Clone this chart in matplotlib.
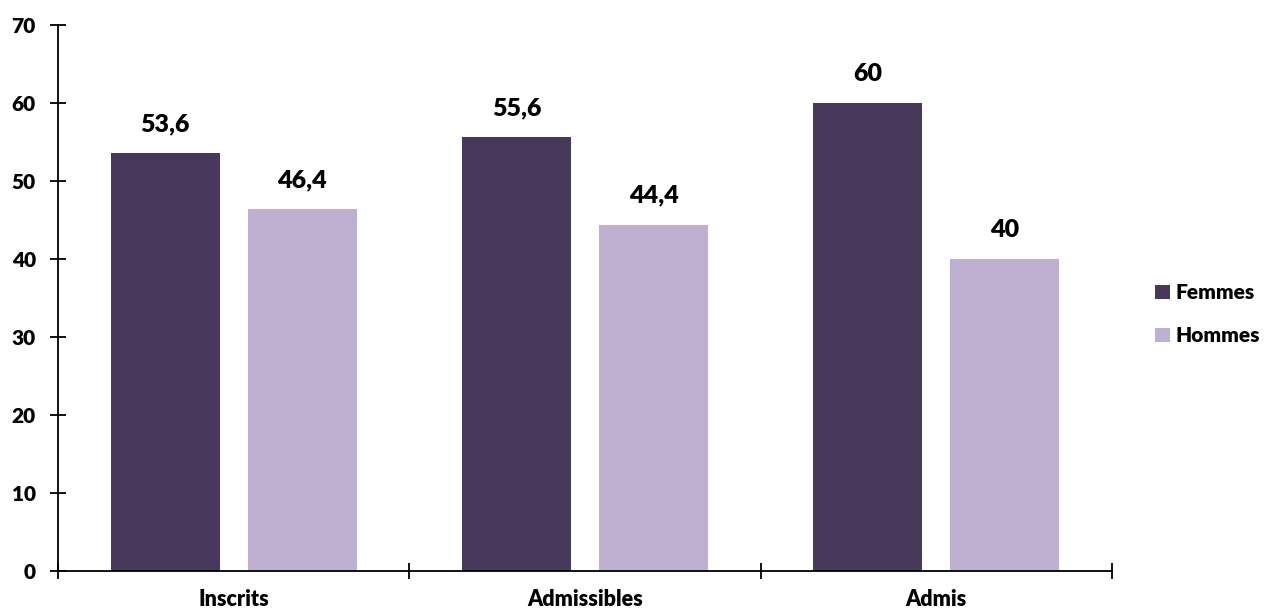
import matplotlib
matplotlib.use("Agg")
import matplotlib.pyplot as plt
import numpy as np

plt.rcParams['font.family'] = ['Lato', 'DejaVu Sans']
plt.rcParams['font.weight'] = 800

categories = ["Inscrits", "Admissibles", "Admis"]
femmes = [53.6, 55.6, 60]
hommes = [46.4, 44.4, 40]
femmes_labels = ["53,6", "55,6", "60"]
hommes_labels = ["46,4", "44,4", "40"]

col_f = "#47385C"
col_h = "#BFB0D2"

fig = plt.figure(figsize=(12.65, 6.10), dpi=100)
ax = fig.add_axes([58 / 1265, 39 / 610, (1112 - 58) / 1265, (571 - 25) / 610])

x = np.arange(len(categories))
w = 0.31
off = 0.195
ax.bar(x - off, femmes, w, color=col_f, label="Femmes")
ax.bar(x + off, hommes, w, color=col_h, label="Hommes")

for xi, v, s in zip(x - off, femmes, femmes_labels):
    ax.text(xi, v + 2.3, s, ha='center', va='bottom', fontsize=18, fontweight=800)
for xi, v, s in zip(x + off, hommes, hommes_labels):
    ax.text(xi, v + 2.3, s, ha='center', va='bottom', fontsize=18, fontweight=800)

ax.set_xlim(-0.5, 2.5)
ax.set_ylim(0, 70)
ax.set_yticks(range(0, 71, 10))
ax.set_xticks([-0.5, 0.5, 1.5, 2.5])
ax.set_xticklabels([])
ax.set_xticks(x, minor=True)
ax.set_xticklabels(categories, minor=True)
ax.tick_params(axis='x', which='minor', length=0, pad=13, labelsize=15.5)
ax.tick_params(axis='x', which='major', direction='inout', length=12, width=1.3)
ax.tick_params(axis='y', direction='inout', length=12, width=1.3, labelsize=15, pad=10)

for sp in ['top', 'right']:
    ax.spines[sp].set_visible(False)
for sp in ['left', 'bottom']:
    ax.spines[sp].set_linewidth(1.3)

ax.legend(loc='center left', bbox_to_anchor=(1.033, 0.47), frameon=False,
          borderaxespad=0, prop={'size': 15, 'weight': 800},
          handlelength=0.7, handleheight=0.7, handletextpad=0.3,
          labelspacing=1.15)

fig.savefig("out.png", dpi=100)
